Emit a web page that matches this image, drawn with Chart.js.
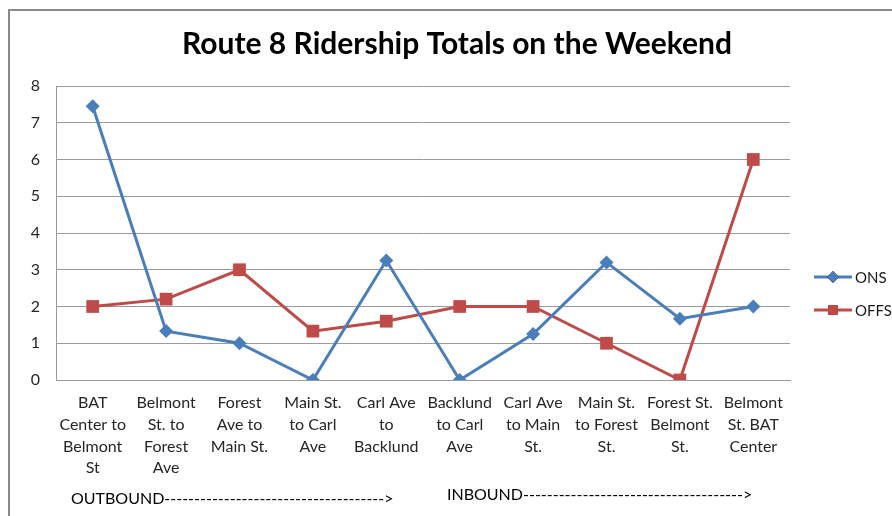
<!DOCTYPE html>
<html>
<head>
<meta charset="utf-8">
<title>Route 8 Ridership Totals on the Weekend</title>
<script src="https://cdn.jsdelivr.net/npm/chart.js@4.4.1/dist/chart.umd.min.js"></script>
<style>
  html, body { margin: 0; padding: 0; background: #fff; }
  #wrap { position: relative; width: 892px; height: 516px; }
</style>
</head>
<body>
<div id="wrap"><canvas id="chart" width="892" height="516"></canvas></div>
<script>
const title = 'Route 8 Ridership Totals on the Weekend';
const stops = [
    ['BAT', 'Center to', 'Belmont', 'St'],
    ['Belmont', 'St. to', 'Forest', 'Ave'],
    ['Forest', 'Ave to', 'Main St.'],
    ['Main St.', 'to Carl', 'Ave'],
    ['Carl Ave', 'to', 'Backlund'],
    ['Backlund', 'to Carl', 'Ave'],
    ['Carl Ave', 'to Main', 'St.'],
    ['Main St.', 'to Forest', 'St.'],
    ['Forest St.', 'Belmont', 'St.'],
    ['Belmont', 'St. BAT', 'Center']
];
const ons  = [7.45, 1.33, 1, 0, 3.25, 0, 1.25, 3.2, 1.67, 2];
const offs = [2, 2.2, 3, 1.33, 1.6, 2, 2, 1, 0, 6];
const yTicks = [0, 1, 2, 3, 4, 5, 6, 7, 8];

const BLUE = '#4a7ebb';
const RED = '#be4b48';
const GRID = '#9a9a9a';
const FONT = 'Lato, "Open Sans", sans-serif';

// frame, title, legend and direction notes under the axis
const extras = {
    id: 'extras',
    beforeDraw(chart) {
        const ctx = chart.ctx;
        ctx.save();
        ctx.fillStyle = '#fff';
        ctx.fillRect(0, 0, chart.width, chart.height);
        ctx.strokeStyle = '#8a8a8a';
        ctx.lineWidth = 2;
        ctx.beginPath();
        ctx.moveTo(9, chart.height);
        ctx.lineTo(9, 10);
        ctx.lineTo(chart.width, 10);
        ctx.stroke();
        ctx.restore();
    },
    afterDraw(chart) {
        const ctx = chart.ctx;
        ctx.save();
        ctx.fillStyle = '#000';
        ctx.font = 'bold 30px ' + FONT;
        ctx.textAlign = 'center';
        ctx.textBaseline = 'middle';
        ctx.fillText(title, 457, 44);

        // legend
        chart.data.datasets.forEach((ds, i) => {
            const y = 277 + i * 33;
            ctx.strokeStyle = ds.borderColor;
            ctx.lineWidth = 3;
            ctx.beginPath();
            ctx.moveTo(814, y);
            ctx.lineTo(852, y);
            ctx.stroke();
            Chart.helpers.drawPoint(ctx, {
                pointStyle: ds.pointStyle,
                radius: ds.pointStyle === 'rect' ? 7 : 6,
                borderWidth: 0
            }, 833, y);
            ctx.fillStyle = ds.borderColor;
            ctx.fill();
            ctx.fillStyle = '#1a1a1a';
            ctx.font = '15px ' + FONT;
            ctx.textAlign = 'left';
            ctx.fillText(ds.label, 855, y + 1);
        });

        // direction notes
        const dash = '-'.repeat(37);
        ctx.fillStyle = '#000';
        ctx.font = '16px ' + FONT;
        ctx.textAlign = 'left';
        ctx.fillText('OUTBOUND' + dash + '>', 71, 499);
        ctx.fillText('INBOUND' + dash + '>', 447, 495);
        ctx.restore();
    }
};

new Chart(document.getElementById('chart'), {
    type: 'line',
    data: {
        labels: stops,
        datasets: [
            {
                label: 'ONS',
                data: ons,
                borderColor: BLUE,
                backgroundColor: BLUE,
                borderWidth: 3,
                pointStyle: 'rectRot',
                pointRadius: 7,
                pointBorderWidth: 0,
                tension: 0
            },
            {
                label: 'OFFS',
                data: offs,
                borderColor: RED,
                backgroundColor: RED,
                borderWidth: 3,
                pointStyle: 'rect',
                pointRadius: 9,
                pointBorderWidth: 0,
                tension: 0
            }
        ]
    },
    options: {
        responsive: false,
        animation: false,
        layout: { padding: { left: 0, right: 102, top: 86, bottom: 0 } },
        plugins: {
            legend: { display: false },
            tooltip: { enabled: false },
            title: { display: false }
        },
        scales: {
            x: {
                offset: true,
                grid: { display: false, drawTicks: false },
                border: { display: true, color: GRID, width: 1 },
                ticks: {
                    color: '#262626',
                    font: { family: FONT, size: 16, lineHeight: 1.36 },
                    padding: 12,
                    maxRotation: 0,
                    autoSkip: false
                },
                afterFit(scale) { scale.height = 136; }
            },
            y: {
                min: 0,
                max: 8,
                afterBuildTicks(scale) { scale.ticks = yTicks.map(v => ({ value: v })); },
                grid: { color: GRID, lineWidth: 1, drawTicks: false },
                border: { display: true, color: GRID, width: 1 },
                ticks: {
                    color: '#262626',
                    font: { family: FONT, size: 16 },
                    padding: 16
                },
                afterFit(scale) { scale.width = 56; }
            }
        }
    },
    plugins: [extras]
});
</script>
</body>
</html>
